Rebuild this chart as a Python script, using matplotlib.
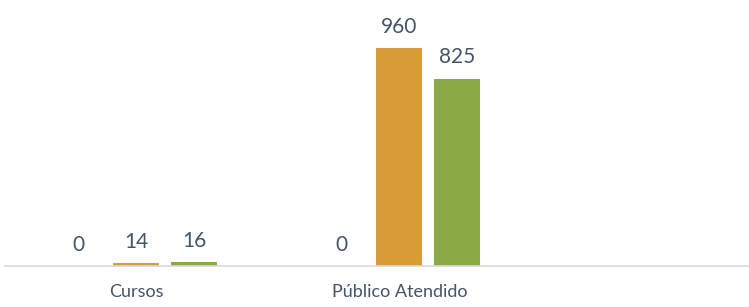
import numpy as np
import matplotlib
matplotlib.use("Agg")
import matplotlib.pyplot as plt

categories = ["Cursos", "Público Atendido"]
serie_a = [0, 0]
serie_b = [14, 960]
serie_c = [16, 825]

colors = ["#4472C4", "#D89C38", "#8BAA44"]
text_color = "#44546A"

plt.rcParams["font.family"] = ["Lato", "DejaVu Sans"]

fig = plt.figure(figsize=(7.49, 3.07), dpi=100)
ax = fig.add_axes([5 / 749, 41 / 307, 744 / 749, 266 / 307])

x = np.arange(len(categories))
w = 0.175
step = 0.22
for i, (vals, c) in enumerate(zip([serie_a, serie_b, serie_c], colors)):
    bars = ax.bar(x + (i - 1) * step, vals, w, color=c, zorder=2)
    ax.bar_label(bars, labels=[str(v) for v in vals], padding=8,
                 fontsize=15, color=text_color)

ax.set_xlim(-0.5, 2.33)
ax.set_ylim(0, 1171)
ax.set_xticks(x)
ax.set_xticklabels(categories, fontsize=13, color=text_color)
ax.tick_params(axis="x", length=0, pad=13)
ax.set_yticks([])
for s in ["top", "right", "left"]:
    ax.spines[s].set_visible(False)
ax.spines["bottom"].set_color("#D9D9D9")
ax.spines["bottom"].set_linewidth(1.2)

fig.savefig("out.png", dpi=100)
